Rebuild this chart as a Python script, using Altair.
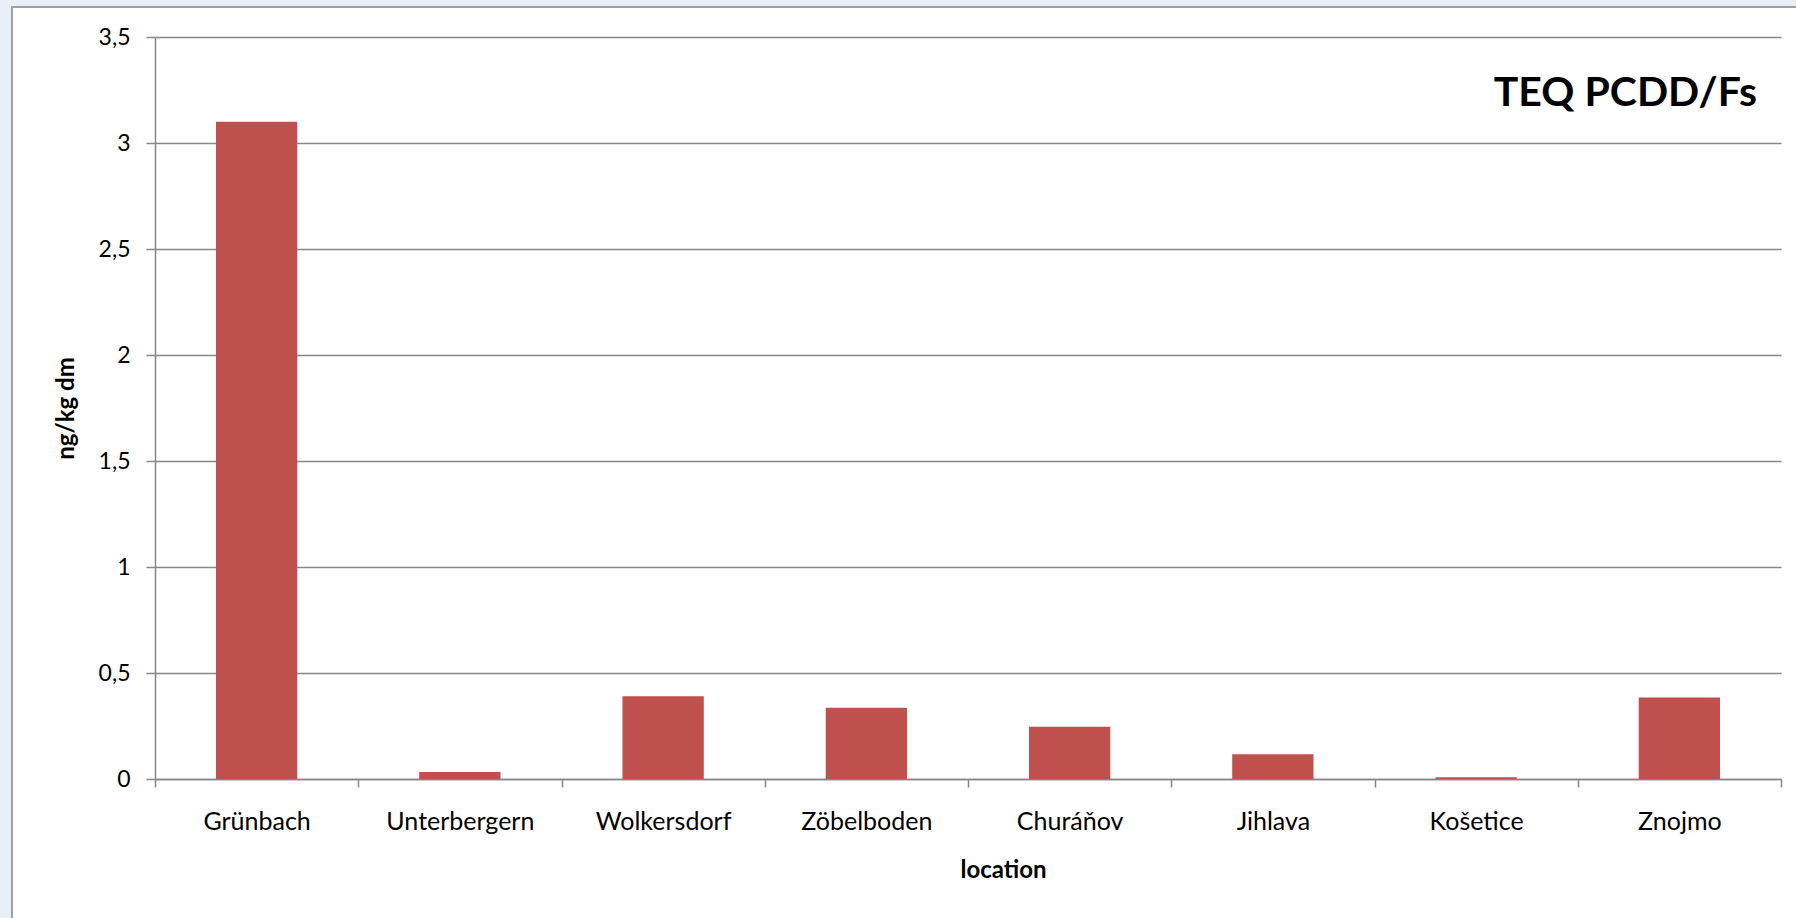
import altair as alt
import pandas as pd

# ---- data ----
locations = ["Grünbach", "Unterbergern", "Wolkersdorf", "Zöbelboden",
             "Churáňov", "Jihlava", "Košetice", "Znojmo"]
teq_values = [3.1, 0.033, 0.39, 0.336, 0.247, 0.117, 0.008, 0.385]
y_ticks = [0, 0.5, 1, 1.5, 2, 2.5, 3, 3.5]
chart_title = ["TEQ PCDD/Fs"]
x_title = "location"
y_title = "ng/kg dm"

df = pd.DataFrame({"location": locations, "value": teq_values})

W, H = 1626, 742
PAD_L, PAD_T = 155, 37
PAD_R, PAD_B = 1796 - W - PAD_L, 918 - H - PAD_T
FONT = "Lato"
GRAY = "#868686"
BG = "#e8eff8"

one = pd.DataFrame({"k": [0]})

# light slide background strips outside the chart frame
strip_top = alt.Chart(one).mark_rect(fill=BG).encode(
    x=alt.value(-PAD_L), x2=alt.value(W + PAD_R),
    y=alt.value(-PAD_T), y2=alt.value(-30))
strip_left = alt.Chart(one).mark_rect(fill=BG).encode(
    x=alt.value(-PAD_L), x2=alt.value(-143),
    y=alt.value(-PAD_T), y2=alt.value(H + PAD_B))
frame = alt.Chart(one).mark_rect(fill=None, stroke="#a0a0a0", strokeWidth=2).encode(
    x=alt.value(-143), x2=alt.value(W + PAD_R + 20),
    y=alt.value(-30), y2=alt.value(H + PAD_B + 20))

bars = alt.Chart(df).mark_bar(color="#c0504d", width=alt.RelativeBandSize(0.4)).encode(
    x=alt.X("location:N", sort=locations,
            scale=alt.Scale(paddingInner=0, paddingOuter=0),
            axis=alt.Axis(title=x_title, labelAngle=0, tickBand="extent",
                          tickSize=8, tickColor=GRAY, tickWidth=1.5,
                          domainColor=GRAY, domainWidth=1.5, grid=False,
                          labelFont=FONT, labelFontSize=25, labelColor="black",
                          labelBaseline="alphabetic", labelPadding=42,
                          titleFont=FONT, titleFontSize=24, titleFontWeight="bold",
                          titleColor="black", titleX=848, titleY=98,
                          titleBaseline="alphabetic", titleAlign="center")),
    y=alt.Y("value:Q",
            scale=alt.Scale(domain=[0, 3.5], nice=False),
            axis=alt.Axis(title=y_title, values=y_ticks, format=".1~f",
                          labelExpr="replace(datum.label, '.', ',')",
                          tickSize=9, tickColor=GRAY, tickWidth=1.5,
                          domainColor=GRAY, domainWidth=1.5,
                          grid=True, gridColor=GRAY, gridWidth=1.5,
                          labelFont=FONT, labelFontSize=23, labelColor="black",
                          labelPadding=16,
                          titleFont=FONT, titleFontSize=24, titleFontWeight="bold",
                          titleColor="black", titleAngle=270,
                          titleX=-89, titleY=H / 2,
                          titleAlign="center", titleBaseline="middle")),
)

title_text = alt.Chart(pd.DataFrame({"t": chart_title})).mark_text(
    font=FONT, fontSize=41, fontWeight="bold", align="right",
    baseline="alphabetic", color="black").encode(
    x=alt.value(W - 24), y=alt.value(69), text="t:N")

chart = alt.layer(strip_top, strip_left, frame, bars, title_text).properties(
    width=W, height=H,
    autosize=alt.AutoSizeParams(type="none"),
    padding={"left": PAD_L, "top": PAD_T, "right": PAD_R, "bottom": PAD_B},
    background="white",
).configure_view(stroke=None)

chart.save("out.html", embed_options={"renderer": "svg", "actions": False})
